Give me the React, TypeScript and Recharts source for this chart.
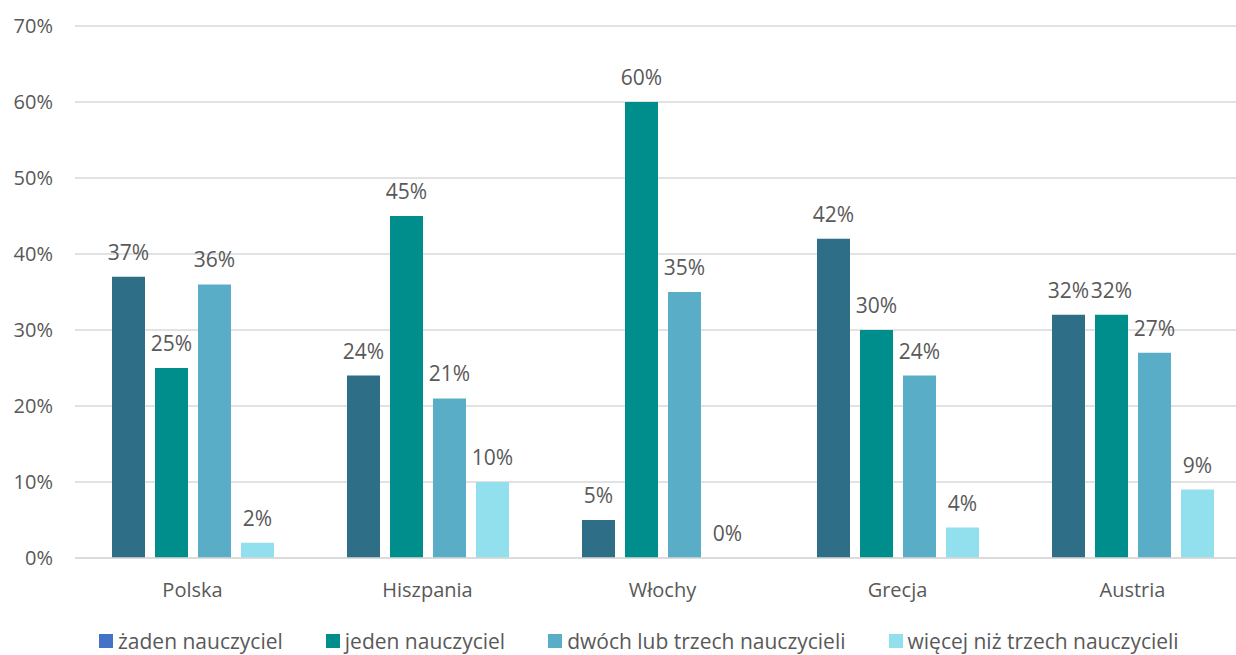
import React from "react";
import { BarChart, Bar, XAxis, YAxis, CartesianGrid, LabelList } from "recharts";

const categories = ["Polska", "Hiszpania", "Włochy", "Grecja", "Austria"];
const zaden = [37, 24, 5, 42, 32];
const jeden = [25, 45, 60, 30, 32];
const dwoch = [36, 21, 35, 24, 27];
const wiecej = [2, 10, 0, 4, 9];
const yTicks = [0, 10, 20, 30, 40, 50, 60, 70];

const seriesNames = [
  "żaden nauczyciel",
  "jeden nauczyciel",
  "dwóch lub trzech nauczycieli",
  "więcej niż trzech nauczycieli",
];
const barColors = ["#2E6E87", "#008E8C", "#5AADC6", "#92E0EE"];
const legendColors = ["#4472C4", "#008E8C", "#5AADC6", "#92E0EE"];

const data = categories.map((c, i) => ({
  name: c,
  s0: zaden[i],
  s1: jeden[i],
  s2: dwoch[i],
  s3: wiecej[i],
}));

const FONT = "'Open Sans', sans-serif";
const GRAY = "#595959";

const renderLabel = (props: any) => {
  const { x, y, width, value } = props;
  if (value === undefined || value === null) return null;
  return (
    <text
      x={Number(x) + Number(width) / 2}
      y={Number(y) - 17}
      textAnchor="middle"
      fill={GRAY}
      fontSize={21}
      fontFamily={FONT}
    >
      {`${value}%`}
    </text>
  );
};

export default function App() {
  return (
    <div style={{ position: "absolute", left: 0, top: 0, width: 1236, height: 655, overflow: "hidden", background: "#fff" }}>
      <BarChart
        width={1250}
        height={655}
        data={data}
        margin={{ top: 26, right: 0, left: 0, bottom: 37 }}
        barCategoryGap={37}
        barGap={10}
      >
        <CartesianGrid vertical={false} stroke="#D9D9D9" strokeWidth={1.5} />
        <XAxis
          dataKey="name"
          axisLine={{ stroke: "#D9D9D9", strokeWidth: 1.5 }}
          tickLine={false}
          tick={{ fill: GRAY, fontSize: 20, fontFamily: FONT }}
          tickMargin={19}
          height={60}
        />
        <YAxis
          width={75}
          domain={[0, 70]}
          ticks={yTicks}
          axisLine={false}
          tickLine={false}
          tickFormatter={(v: number) => `${v}%`}
          tick={{ fill: GRAY, fontSize: 20, fontFamily: FONT }}
          tickMargin={16}
        />
        {["s0", "s1", "s2", "s3"].map((k, i) => (
          <Bar
            key={k}
            dataKey={k}
            name={seriesNames[i]}
            fill={barColors[i]}
            isAnimationActive={false}
            minPointSize={(v: number) => (v === 0 ? 0.01 : 0)}
          >
            <LabelList dataKey={k} content={renderLabel} />
          </Bar>
        ))}
      </BarChart>
      <div
        style={{
          position: "absolute",
          left: 99,
          top: 629,
          display: "flex",
          gap: 43,
          fontFamily: FONT,
          fontSize: 21,
          lineHeight: "24px",
          color: GRAY,
          whiteSpace: "nowrap",
        }}
      >
        {seriesNames.map((n, i) => (
          <div key={n} style={{ display: "flex", alignItems: "center" }}>
            <span
              style={{
                display: "inline-block",
                width: 14,
                height: 14,
                background: legendColors[i],
                marginRight: 5,
              }}
            />
            <span>{n}</span>
          </div>
        ))}
      </div>
    </div>
  );
}
